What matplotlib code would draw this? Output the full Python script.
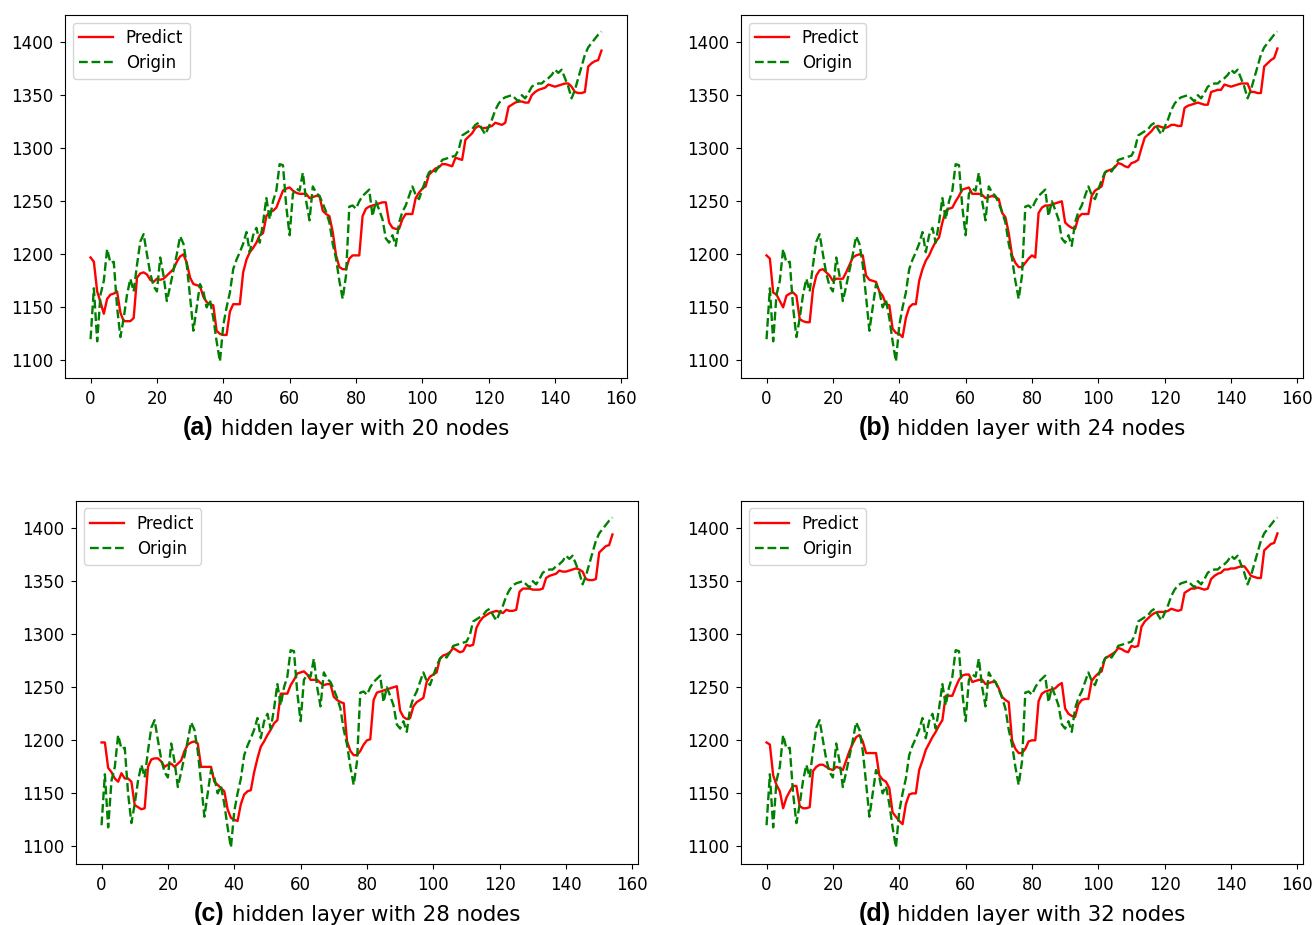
import matplotlib
matplotlib.use("Agg")
import matplotlib.pyplot as plt
from matplotlib.offsetbox import TextArea, HPacker, AnnotationBbox

# Closing index (origin) and network predictions for four hidden-layer sizes
origin = [
    1120, 1168, 1118, 1162, 1175, 1205, 1192, 1193, 1150, 1122,
    1140, 1162, 1177, 1165, 1190, 1212, 1219, 1200, 1182, 1170,
    1165, 1197, 1180, 1156, 1170, 1185, 1200, 1217, 1210, 1190,
    1160, 1128, 1150, 1172, 1165, 1150, 1157, 1140, 1118, 1099,
    1133, 1150, 1164, 1186, 1195, 1202, 1210, 1221, 1202, 1218,
    1225, 1211, 1230, 1253, 1233, 1250, 1260, 1285, 1284, 1245,
    1218, 1257, 1262, 1260, 1277, 1250, 1232, 1264, 1258, 1255,
    1248, 1240, 1230, 1210, 1196, 1175, 1158, 1180, 1245, 1246,
    1243, 1250, 1255, 1258, 1261, 1236, 1250, 1242, 1233, 1215,
    1211, 1218, 1208, 1230, 1240, 1246, 1255, 1264, 1256, 1252,
    1261, 1270, 1277, 1280, 1278, 1283, 1289, 1290, 1291, 1292,
    1293, 1299, 1312, 1314, 1316, 1318, 1322, 1324, 1318, 1313,
    1320, 1327, 1336, 1342, 1346, 1348, 1349, 1350, 1347, 1344,
    1350, 1347, 1352, 1358, 1360, 1361, 1361, 1364, 1366, 1369,
    1374, 1371, 1374, 1366, 1358, 1347, 1355, 1366, 1377, 1388,
    1395, 1399, 1403, 1407, 1410,
]

predict_20 = [
    1197, 1193, 1165, 1155, 1144, 1158, 1162, 1163, 1165, 1145,
    1137, 1137, 1137, 1140, 1178, 1182, 1183, 1181, 1176, 1174,
    1177, 1176, 1177, 1180, 1183, 1186, 1193, 1198, 1200, 1192,
    1178, 1172, 1171, 1170, 1160, 1155, 1153, 1152, 1128, 1125,
    1124, 1124, 1146, 1153, 1153, 1153, 1183, 1195, 1202, 1206,
    1211, 1218, 1220, 1236, 1240, 1241, 1244, 1252, 1260, 1262,
    1263, 1260, 1258, 1257, 1257, 1257, 1253, 1254, 1255, 1255,
    1241, 1238, 1236, 1221, 1199, 1188, 1186, 1186, 1196, 1199,
    1199, 1199, 1236, 1243, 1245, 1246, 1247, 1248, 1249, 1249,
    1230, 1225, 1224, 1224, 1233, 1238, 1238, 1238, 1253, 1258,
    1262, 1264, 1275, 1278, 1281, 1282, 1285, 1285, 1284, 1283,
    1291, 1290, 1289, 1308, 1311, 1314, 1319, 1321, 1319, 1319,
    1320, 1321, 1324, 1323, 1322, 1324, 1339, 1341, 1343, 1344,
    1344, 1343, 1343, 1350, 1353, 1355, 1356, 1357, 1360, 1359,
    1358, 1359, 1360, 1361, 1361, 1358, 1353, 1352, 1352, 1353,
    1377, 1380, 1382, 1383, 1392,
]

predict_24 = [
    1199, 1196, 1164, 1162, 1156, 1150, 1161, 1163, 1164, 1161,
    1139, 1137, 1136, 1136, 1167, 1180, 1185, 1186, 1183, 1180,
    1175, 1177, 1177, 1177, 1183, 1190, 1197, 1199, 1200, 1199,
    1180, 1176, 1175, 1174, 1165, 1161, 1153, 1152, 1130, 1126,
    1125, 1122, 1140, 1150, 1153, 1153, 1175, 1186, 1194, 1199,
    1206, 1212, 1216, 1230, 1241, 1243, 1244, 1250, 1255, 1261,
    1262, 1263, 1257, 1257, 1257, 1256, 1253, 1254, 1255, 1254,
    1252, 1239, 1235, 1220, 1199, 1192, 1188, 1188, 1192, 1196,
    1199, 1197, 1239, 1244, 1246, 1246, 1247, 1248, 1249, 1250,
    1230, 1227, 1225, 1224, 1235, 1238, 1238, 1238, 1255, 1260,
    1262, 1264, 1277, 1279, 1280, 1282, 1286, 1285, 1283, 1282,
    1286, 1287, 1289, 1300, 1310, 1313, 1316, 1320, 1321, 1320,
    1319, 1320, 1322, 1322, 1321, 1321, 1338, 1340, 1341, 1342,
    1343, 1342, 1341, 1341, 1353, 1354, 1355, 1355, 1360, 1359,
    1358, 1359, 1360, 1361, 1361, 1361, 1353, 1353, 1352, 1352,
    1377, 1380, 1383, 1385, 1394,
]

predict_28 = [
    1198, 1198, 1174, 1170, 1164, 1161, 1169, 1164, 1164, 1161,
    1139, 1137, 1135, 1136, 1175, 1182, 1183, 1183, 1180, 1175,
    1177, 1178, 1175, 1178, 1181, 1190, 1196, 1198, 1199, 1197,
    1175, 1175, 1175, 1175, 1161, 1158, 1155, 1152, 1135, 1127,
    1125, 1124, 1140, 1149, 1152, 1153, 1170, 1183, 1194, 1199,
    1205, 1210, 1216, 1219, 1244, 1244, 1244, 1252, 1257, 1263,
    1264, 1265, 1262, 1257, 1257, 1257, 1254, 1252, 1253, 1253,
    1241, 1238, 1236, 1235, 1199, 1190, 1186, 1186, 1190, 1196,
    1200, 1201, 1238, 1245, 1246, 1247, 1248, 1249, 1250, 1251,
    1228, 1222, 1220, 1221, 1232, 1236, 1238, 1240, 1255, 1260,
    1262, 1264, 1277, 1280, 1281, 1283, 1287, 1285, 1283, 1284,
    1290, 1289, 1290, 1306, 1312, 1316, 1318, 1320, 1321, 1322,
    1321, 1320, 1323, 1322, 1322, 1323, 1340, 1343, 1343, 1343,
    1342, 1342, 1342, 1343, 1353, 1355, 1356, 1357, 1360, 1359,
    1359, 1360, 1361, 1362, 1361, 1359, 1352, 1351, 1351, 1352,
    1377, 1380, 1383, 1384, 1394,
]

predict_32 = [
    1198, 1196, 1167, 1158, 1152, 1136, 1146, 1152, 1157, 1157,
    1138, 1136, 1136, 1137, 1171, 1175, 1177, 1177, 1175, 1173,
    1172, 1175, 1174, 1172, 1181, 1190, 1197, 1203, 1205, 1199,
    1188, 1188, 1188, 1188, 1167, 1163, 1161, 1155, 1132, 1128,
    1124, 1121, 1140, 1149, 1150, 1150, 1172, 1181, 1191, 1197,
    1203, 1208, 1214, 1219, 1242, 1242, 1242, 1250, 1257, 1261,
    1262, 1262, 1255, 1256, 1257, 1257, 1253, 1254, 1255, 1255,
    1249, 1241, 1238, 1236, 1200, 1192, 1188, 1188, 1192, 1199,
    1200, 1200, 1237, 1244, 1246, 1247, 1248, 1249, 1252, 1254,
    1230, 1225, 1223, 1222, 1234, 1238, 1239, 1239, 1256, 1260,
    1263, 1265, 1277, 1279, 1281, 1283, 1287, 1286, 1284, 1283,
    1289, 1288, 1289, 1307, 1312, 1315, 1318, 1320, 1321, 1321,
    1321, 1322, 1324, 1323, 1322, 1323, 1339, 1341, 1343, 1343,
    1344, 1343, 1342, 1343, 1352, 1355, 1357, 1358, 1361, 1361,
    1362, 1362, 1363, 1364, 1364, 1360, 1355, 1354, 1353, 1353,
    1379, 1382, 1385, 1386, 1395,
]

panel_tags = ["(a)", "(b)", "(c)", "(d)"]
node_counts = [20, 24, 28, 32]
predictions = [predict_20, predict_24, predict_28, predict_32]

W, H = 1314, 925
fig = plt.figure(figsize=(W / 100, H / 100), dpi=100)

# axes boxes in pixels: left, top, right, bottom
boxes = [
    (65, 15, 627, 378),
    (741, 15, 1303, 378),
    (76, 501, 638, 864),
    (741, 501, 1303, 864),
]

steps = list(range(len(origin)))

for tag, nodes, pred, (l, t, r, b) in zip(panel_tags, node_counts, predictions, boxes):
    ax = fig.add_axes([l / W, 1 - b / H, (r - l) / W, (b - t) / H])
    ax.plot(steps, pred, color="red", linewidth=1.7, label="Predict")
    ax.plot(steps, origin, color="green", linestyle="--", linewidth=1.7, label="Origin")
    ax.set_xticks(range(0, 161, 20))
    ax.set_yticks(range(1100, 1401, 50))
    ax.tick_params(labelsize=12, pad=5)
    ax.legend(loc="upper left", fontsize=12, borderaxespad=0.45,
              labelspacing=0.4)

    # caption below the axes: bold tag followed by plain text
    bold = TextArea(tag, textprops=dict(fontsize=18, fontweight="bold",
                                        family="Liberation Sans"))
    rest = TextArea(f"hidden layer with {nodes} nodes",
                    textprops=dict(fontsize=15.3, family="DejaVu Sans"))
    pack = HPacker(children=[bold, rest], align="baseline", pad=0, sep=5)
    ab = AnnotationBbox(pack, (0.5, -0.138), xycoords="axes fraction",
                        box_alignment=(0.5, 0.5), frameon=False)
    ax.add_artist(ab)

fig.savefig("out.png", dpi=100, facecolor="white")
